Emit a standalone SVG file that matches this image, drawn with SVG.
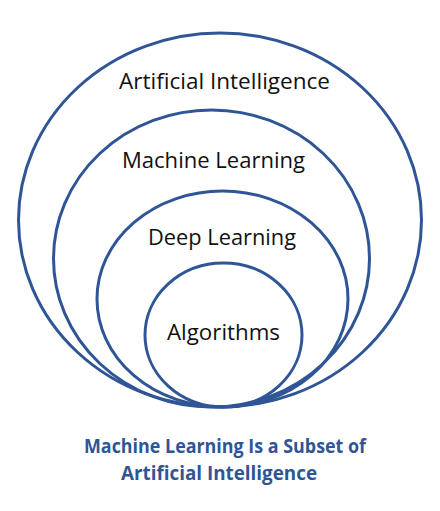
<svg xmlns="http://www.w3.org/2000/svg" width="440" height="511" viewBox="0 0 440 511">
<style>
.ring{fill:none;stroke:#2F5597;stroke-width:3}
.lbl{font-family:"Open Sans","Liberation Sans",sans-serif;font-size:21.5px;fill:#111}
.ttl{font-family:"Open Sans","Liberation Sans",sans-serif;font-size:20px;font-weight:bold;fill:#2F5597}
</style>
<rect width="440" height="511" fill="#fff"/>
<g id="ai">
<ellipse class="ring" cx="220" cy="220" rx="201.5" ry="187"/>
<text class="lbl" x="119" y="89" textLength="211" lengthAdjust="spacingAndGlyphs">Artificial Intelligence</text>
</g>
<g id="ml">
<ellipse class="ring" cx="211.5" cy="258.5" rx="158" ry="148.5"/>
<text class="lbl" x="122" y="168" textLength="183" lengthAdjust="spacingAndGlyphs">Machine Learning</text>
</g>
<g id="dl">
<ellipse class="ring" cx="222.5" cy="299" rx="125.5" ry="108"/>
<text class="lbl" x="148" y="245" textLength="148" lengthAdjust="spacingAndGlyphs">Deep Learning</text>
</g>
<g id="alg">
<ellipse class="ring" cx="223.5" cy="335" rx="78.5" ry="72"/>
<text class="lbl" x="167" y="340" textLength="113" lengthAdjust="spacingAndGlyphs">Algorithms</text>
</g>
<g id="caption">
<text class="ttl" x="84" y="453" textLength="282" lengthAdjust="spacingAndGlyphs">Machine Learning Is a Subset of</text>
<text class="ttl" x="121" y="480" textLength="196" lengthAdjust="spacingAndGlyphs">Artificial Intelligence</text>
</g>
<g id="connectors"/>
</svg>
